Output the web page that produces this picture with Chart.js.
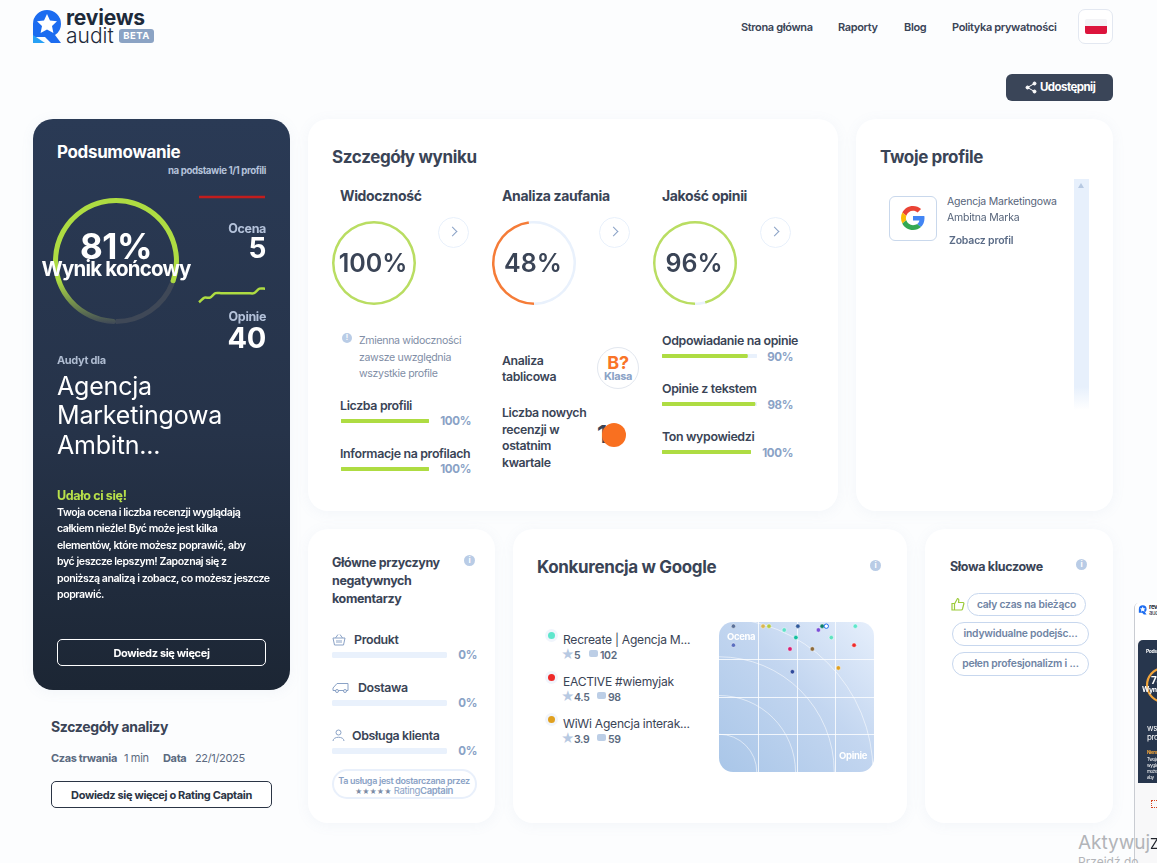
<!DOCTYPE html>
<html lang="pl">
<head>
<meta charset="utf-8">
<title>Reviews Audit</title>
<script src="https://cdn.jsdelivr.net/npm/chart.js@4"></script>
<style>
  html, body { margin: 0; padding: 0; width: 1157px; height: 863px; overflow: hidden; background: #fcfdfe; }
  body { position: relative; font-family: Inter, "Noto Sans", sans-serif; color: #3a4456; letter-spacing: -.35px; }
  canvas { position: absolute; display: block; }
  .card { position: absolute; background: #fff; border-radius: 20px; box-shadow: 0 2px 14px rgba(120,145,190,.07); }
  .t { position: absolute; white-space: nowrap; line-height: 1; transform: translateY(-50%); margin-top: 1px; }
  .r { transform: translate(-100%,-50%); }
  .c { transform: translate(-50%,-50%); }
  .b { font-weight: 700; }
  .s { font-weight: 600; }
  .h { font-size: 17px; font-weight: 700; margin-top: 0; }
  .sub { font-size: 12.400px; font-weight: 600; margin-top: 2px; }
  .pct { font-size: 11.500px; font-weight: 700; color: #8aa2c6; margin-top: 2px; }
  .ring { font-size: 25px; font-weight: 600; letter-spacing: 0; margin-top: 0; }
  .p { font-size: 10.600px; font-weight: 600; color: #fff; letter-spacing: -.45px; left: 57px; margin-top: 2px; }
  .arrow { position: absolute; width: 29px; height: 29px; border: 1px solid #e8f0fb; border-radius: 50%; background: #fff; }
  .arrow::after { content: ""; position: absolute; left: 10px; top: 10px; width: 6px; height: 6px; border-top: 1.6px solid #8aa2c6; border-right: 1.6px solid #8aa2c6; transform: rotate(45deg); }
  .info { position: absolute; width: 11px; height: 11px; border-radius: 50%; background: #b9cce6; color: #fff; font-size: 8px; font-weight: 700; text-align: center; line-height: 11px; letter-spacing: 0; }
  .pill { position: absolute; box-sizing: border-box; border: 1.5px solid #c7d7ee; border-radius: 12px; font-size: 10.300px; font-weight: 600; color: #6f84a4; text-align: center; letter-spacing: -.2px; }
  .btn { position: absolute; box-sizing: border-box; border-radius: 5px; font-size: 11px; font-weight: 700; text-align: center; }
  .dot { position: absolute; width: 7px; height: 7px; border-radius: 50%; box-shadow: 0 0 0 3px #f1f5fc; }
</style>
</head>
<body>

<!-- header -->
<svg style="position:absolute;left:30px;top:7px" width="36" height="40" viewBox="0 0 36 40">
  <path d="M3 17 a14 14 0 0 1 28 0 a13 13 0 0 1 -6 11 l6 8 h-10 l-6 -6 h-12 z" fill="#1c6cf0"/>
  <path d="M3 28 v8 h12 z" fill="#27a0f5"/>
  <path d="M17 7 l3 6.500 l7 .8 l-5 4.700 l1.400 7 l-6.400 -3.500 l-6.400 3.500 l1.400 -7 l-5 -4.700 l7 -.8 z" fill="#fff"/>
</svg>
<div class="t b" style="left:66px;top:16px;font-size:21px;color:#1d2a3a;letter-spacing:-.2px">reviews</div>
<div class="t" style="left:66px;top:34px;font-size:21px;font-weight:300;color:#1d2a3a;letter-spacing:0">audit</div>
<div style="position:absolute;left:119px;top:29px;width:35px;height:14px;border-radius:3px;background:#8ba3c4;color:#fff;font-size:9.500px;font-weight:700;text-align:center;line-height:14px;letter-spacing:.5px">BETA</div>

<div class="t s" style="left:741px;top:26px;font-size:11px">Strona główna</div>
<div class="t s" style="left:838px;top:26px;font-size:11px">Raporty</div>
<div class="t s" style="left:904px;top:26px;font-size:11px">Blog</div>
<div class="t s" style="left:952px;top:26px;font-size:11px">Polityka prywatności</div>
<div style="position:absolute;left:1078px;top:9px;width:33px;height:33px;border:1px solid #e3e8f1;border-radius:7px;background:#fff"></div>
<div style="position:absolute;left:1085px;top:19px;width:22px;height:7px;background:#f3f3f6;border-radius:2px 2px 0 0"></div>
<div style="position:absolute;left:1085px;top:26px;width:22px;height:8px;background:#dc143c;border-radius:0 0 2px 2px"></div>

<div style="position:absolute;left:1006px;top:74px;width:107px;height:27px;border-radius:6px;background:#3a4558"></div>
<svg style="position:absolute;left:1025px;top:81px" width="12" height="13" viewBox="0 0 12 13"><g fill="#fff" stroke="#fff"><circle cx="9.500" cy="2.500" r="1.500"/><circle cx="2.500" cy="6.500" r="1.500"/><circle cx="9.500" cy="10.500" r="1.500"/><path d="M9.500 2.500 L2.500 6.500 L9.500 10.500" fill="none"/></g></svg>
<div class="t b" style="left:1040px;top:87px;font-size:11.500px;color:#fff;letter-spacing:-.55px">Udostępnij</div>

<!-- summary panel -->
<div class="card" style="left:33px;top:119px;width:257px;height:571px;background:linear-gradient(180deg,#2a3a55 0%,#263349 55%,#1c2634 100%)"></div>
<div class="t h" style="left:57px;top:152px;color:#fff">Podsumowanie</div>
<div class="t r b" style="left:266px;top:170px;font-size:9.700px;color:#b4c2da;letter-spacing:-.4px">na podstawie 1/1 profili</div>
<canvas id="ringFinal" width="130" height="130" style="left:51px;top:196px"></canvas>
<div class="t c b" style="left:116px;top:245px;font-size:35px;color:#fff;letter-spacing:-.5px">81%</div>
<div class="t c b" style="left:116px;top:268px;font-size:20.500px;color:#fff;letter-spacing:-.8px">Wynik końcowy</div>
<canvas id="sparkRating" width="68" height="8" style="left:198px;top:193px"></canvas>
<div class="t r b" style="left:266px;top:228px;font-size:12.500px;color:#b4c2da">Ocena</div>
<div class="t r b" style="left:266px;top:247px;font-size:28px;color:#fff">5</div>
<canvas id="sparkReviews" width="68" height="18" style="left:198px;top:286px"></canvas>
<div class="t r b" style="left:266px;top:316px;font-size:12.500px;color:#b4c2da">Opinie</div>
<div class="t r b" style="left:266px;top:336px;font-size:29px;color:#fff">40</div>
<div class="t b" style="left:57px;top:359px;font-size:11px;color:#aebbd0">Audyt dla</div>
<div class="t" style="left:57px;top:385px;font-size:25px;color:#fff;letter-spacing:-.2px">Agencja</div>
<div class="t" style="left:57px;top:414px;font-size:25px;color:#fff;letter-spacing:-.2px">Marketingowa</div>
<div class="t" style="left:57px;top:444px;font-size:25px;color:#fff;letter-spacing:-.2px">Ambitn...</div>
<div class="t b" style="left:57px;top:495px;font-size:12.500px;color:#b8e04a">Udało ci się!</div>
<div class="t p" style="top:511px">Twoja ocena i liczba recenzji wyglądają</div>
<div class="t p" style="top:527px">całkiem nieźle! Być może jest kilka</div>
<div class="t p" style="top:544px">elementów, które możesz poprawić, aby</div>
<div class="t p" style="top:560px">być jeszcze lepszym! Zapoznaj się z</div>
<div class="t p" style="top:577px">poniższą analizą i zobacz, co możesz jeszcze</div>
<div class="t p" style="top:593px">poprawić.</div>
<div class="btn" style="left:57px;top:639px;width:209px;height:27px;border:1px solid #fff;color:#fff;line-height:26px">Dowiedz się więcej</div>

<div class="t b" style="left:51px;top:726px;font-size:14px">Szczegóły analizy</div>
<div class="t b" style="left:51px;top:757px;font-size:11px;color:#5b6a80">Czas trwania</div>
<div class="t" style="left:124px;top:757px;font-size:11px;color:#5b6a80">1 min</div>
<div class="t b" style="left:163px;top:757px;font-size:11px;color:#5b6a80">Data</div>
<div class="t" style="left:195px;top:757px;font-size:11px;color:#5b6a80">22/1/2025</div>
<div class="btn" style="left:51px;top:781px;width:221px;height:27px;border:1px solid #2b3545;color:#2b3545;line-height:26px;background:#fff">Dowiedz się więcej o Rating Captain</div>

<!-- score details -->
<div class="card" style="left:308px;top:119px;width:530px;height:392px"></div>
<div class="t h" style="left:332px;top:157px">Szczegóły wyniku</div>
<div class="t b" style="left:340px;top:195px;font-size:14px">Widoczność</div>
<div class="t b" style="left:502px;top:195px;font-size:14px">Analiza zaufania</div>
<div class="t b" style="left:662px;top:195px;font-size:14px">Jakość opinii</div>
<canvas id="ringVisibility" width="86" height="86" style="left:331px;top:220px"></canvas>
<canvas id="ringTrust" width="86" height="86" style="left:491px;top:220px"></canvas>
<canvas id="ringQuality" width="86" height="86" style="left:652px;top:220px"></canvas>
<div class="t c ring" style="left:373px;top:263px">100%</div>
<div class="t c ring" style="left:533px;top:263px">48%</div>
<div class="t c ring" style="left:694px;top:263px">96%</div>
<div class="arrow" style="left:438px;top:217px"></div>
<div class="arrow" style="left:599px;top:217px"></div>
<div class="arrow" style="left:760px;top:217px"></div>

<div class="info" style="left:342px;top:333px;width:10px;height:10px;line-height:10px;font-size:7px">!</div>
<div class="t" style="left:359px;top:340px;font-size:10.600px;color:#7f8ea6">Zmienna widoczności</div>
<div class="t" style="left:359px;top:357px;font-size:10.600px;color:#7f8ea6">zawsze uwzględnia</div>
<div class="t" style="left:359px;top:373px;font-size:10.600px;color:#7f8ea6">wszystkie profile</div>
<div class="t sub" style="left:340px;top:404px">Liczba profili</div>
<canvas id="barProfiles" width="88" height="4" style="left:341px;top:419px"></canvas>
<div class="t r pct" style="left:471px;top:420px">100%</div>
<div class="t sub" style="left:340px;top:452px">Informacje na profilach</div>
<canvas id="barInfo" width="88" height="4" style="left:341px;top:467px"></canvas>
<div class="t r pct" style="left:471px;top:468px">100%</div>

<div class="t s" style="left:502px;top:360px;font-size:12.300px">Analiza</div>
<div class="t s" style="left:502px;top:376px;font-size:12.300px">tablicowa</div>
<div style="position:absolute;left:597px;top:347px;width:40px;height:40px;border:1px solid #e2e7ef;border-radius:50%"></div>
<div class="t c b" style="left:618px;top:362px;font-size:18px;color:#f97428">B?</div>
<div class="t c b" style="left:618px;top:375px;font-size:11px;color:#8aa2c6">Klasa</div>
<div class="t s" style="left:502px;top:412px;font-size:12.300px">Liczba nowych</div>
<div class="t s" style="left:502px;top:429px;font-size:12.300px">recenzji w</div>
<div class="t s" style="left:502px;top:445px;font-size:12.300px">ostatnim</div>
<div class="t s" style="left:502px;top:462px;font-size:12.300px">kwartale</div>
<div class="t b" style="left:597px;top:434px;font-size:24px">1</div>
<div style="position:absolute;left:602px;top:423px;width:24px;height:24px;border-radius:50%;background:#f97020"></div>

<div class="t sub" style="left:662px;top:339px">Odpowiadanie na opinie</div>
<canvas id="barReplies" width="95" height="4" style="left:662px;top:354px"></canvas>
<div class="t r pct" style="left:793px;top:356px">90%</div>
<div class="t sub" style="left:662px;top:387px">Opinie z tekstem</div>
<canvas id="barText" width="95" height="4" style="left:662px;top:402px"></canvas>
<div class="t r pct" style="left:793px;top:404px">98%</div>
<div class="t sub" style="left:662px;top:435px">Ton wypowiedzi</div>
<canvas id="barTone" width="89" height="4" style="left:662px;top:450px"></canvas>
<div class="t r pct" style="left:793px;top:452px">100%</div>

<!-- profiles -->
<div class="card" style="left:856px;top:119px;width:257px;height:392px"></div>
<div class="t h" style="left:880px;top:157px">Twoje profile</div>
<div style="position:absolute;left:889px;top:196px;width:46px;height:43px;border:1px solid #c9d8ec;border-radius:6px"></div>
<svg style="position:absolute;left:901px;top:206px" width="24" height="24" viewBox="0 0 48 48">
  <path fill="#EA4335" d="M24 9.500c3.500 0 6.700 1.200 9.200 3.600l6.900-6.900C35.900 2.400 30.500 0 24 0 14.600 0 6.500 5.400 2.600 13.200l8 6.200C12.500 13.700 17.800 9.500 24 9.500z"/>
  <path fill="#4285F4" d="M47 24.500c0-1.600-.1-3.100-.4-4.500H24v9h12.900c-.6 3-2.200 5.500-4.800 7.200l7.700 6C44.400 37.900 47 31.800 47 24.500z"/>
  <path fill="#FBBC05" d="M10.600 28.600c-.5-1.500-.8-3-.8-4.600s.3-3.100.8-4.600l-8-6.200C.9 16.500 0 20.100 0 24s.9 7.500 2.600 10.800l8-6.200z"/>
  <path fill="#34A853" d="M24 48c6.500 0 11.900-2.100 15.900-5.800l-7.700-6c-2.200 1.400-4.900 2.300-8.200 2.300-6.200 0-11.500-4.200-13.400-9.900l-8 6.200C6.500 42.600 14.600 48 24 48z"/>
</svg>
<div class="t" style="left:947px;top:201px;font-size:10.500px;color:#56647a;letter-spacing:-.2px">Agencja Marketingowa</div>
<div class="t" style="left:947px;top:217px;font-size:10.500px;color:#56647a;letter-spacing:-.2px">Ambitna Marka</div>
<div class="t s" style="left:949px;top:240px;font-size:10.500px;color:#5a6b86;letter-spacing:-.2px">Zobacz profil</div>
<div style="position:absolute;left:1074px;top:179px;width:15px;height:231px;background:linear-gradient(180deg,#e7f0fc 0%,#e7f0fc 90%,#fff 100%)"></div>
<div style="position:absolute;left:1078px;top:183px;border-left:3.500px solid transparent;border-right:3.500px solid transparent;border-bottom:5px solid #b7c9e2"></div>

<!-- negative comments -->
<div class="card" style="left:308px;top:529px;width:187px;height:294px"></div>
<div class="t b" style="left:332px;top:562px;font-size:12.500px">Główne przyczyny</div>
<div class="t b" style="left:332px;top:580px;font-size:12.500px">negatywnych</div>
<div class="t b" style="left:332px;top:598px;font-size:12.500px">komentarzy</div>
<div class="info" style="left:464px;top:555px">i</div>
<svg style="position:absolute;left:332px;top:633px" width="14" height="13" viewBox="0 0 14 13" fill="none" stroke="#8aa2c6"><path d="M1 5 h12 l-1.500 7 h-9 z M3.500 5 L6 1.500 M10.500 5 L8 1.500 M5 7 v3 M7 7 v3 M9 7 v3"/></svg>
<div class="t sub" style="left:354px;top:638px">Produkt</div>
<canvas id="barProduct" width="115" height="6" style="left:332px;top:652px"></canvas>
<div class="t r pct" style="left:477px;top:654px">0%</div>
<svg style="position:absolute;left:332px;top:682px" width="17" height="11" viewBox="0 0 17 11" fill="none" stroke="#8aa2c6"><path d="M1 6 L5 1.500 H16 V8.500 H1 Z"/><circle cx="5" cy="9" r="1.500" fill="#fff"/><circle cx="13" cy="9" r="1.500" fill="#fff"/></svg>
<div class="t sub" style="left:358px;top:686px">Dostawa</div>
<canvas id="barDelivery" width="115" height="6" style="left:332px;top:700px"></canvas>
<div class="t r pct" style="left:477px;top:702px">0%</div>
<svg style="position:absolute;left:332px;top:729px" width="13" height="13" viewBox="0 0 13 13" fill="none" stroke="#8aa2c6"><circle cx="6.500" cy="3.500" r="2.500"/><path d="M1 12 c0 -5 11 -5 11 0"/></svg>
<div class="t sub" style="left:352px;top:734px">Obsługa klienta</div>
<canvas id="barService" width="115" height="6" style="left:332px;top:748px"></canvas>
<div class="t r pct" style="left:477px;top:750px">0%</div>
<div style="position:absolute;left:332px;top:769px;width:141px;height:26px;border:2px solid #e9f0fb;border-radius:15px"></div>
<div class="t c s" style="left:404px;top:779px;font-size:9px;color:#8aa2c6;letter-spacing:-.35px">Ta usługa jest dostarczana przez</div>
<div class="t c" style="left:404px;top:790px;font-size:9.500px;color:#8aa2c6"><span style="color:#7c8ca6;font-size:7px;letter-spacing:0">★★★★★</span> Rating<b style="font-weight:600">Captain</b></div>

<!-- competitors -->
<div class="card" style="left:513px;top:529px;width:394px;height:294px"></div>
<div class="t h" style="left:537px;top:567px">Konkurencja w Google</div>
<div class="info" style="left:870px;top:560px">i</div>
<div id="rivals"></div>
<div style="position:absolute;left:719px;top:622px;width:155px;height:150px;border-radius:14px;overflow:hidden;background:linear-gradient(45deg,#a9c6e8 0%,#c3d6f0 55%,#e6effc 100%)">
  <canvas id="mapChart" width="155" height="150" style="left:0;top:0"></canvas>
  <div class="t b" style="left:8px;top:14px;font-size:9.500px;color:#fff">Ocena</div>
  <div class="t r b" style="left:148px;top:133px;font-size:9.500px;color:#fff">Opinie</div>
</div>

<!-- keywords -->
<div class="card" style="left:925px;top:529px;width:188px;height:294px"></div>
<div class="t b" style="left:950px;top:566px;font-size:12.500px">Słowa kluczowe</div>
<div class="info" style="left:1076px;top:559px">i</div>
<svg style="position:absolute;left:951px;top:597px" width="14" height="14" viewBox="0 0 14 14" fill="none" stroke="#9ccb3b" stroke-width="1.200"><path d="M1 6.500 h2.500 v6.500 h-2.500 z M3.500 7 L6.500 1.500 c1.500 0 1.500 1.500 1 4 h4.500 c1 0 1 1 .8 1.500 l-1.300 5 c-.2 .7 -.6 1 -1.200 1 H3.500"/></svg>
<div class="pill" style="left:967px;top:593px;width:119px;height:23px;line-height:20px">cały czas na bieżąco</div>
<div class="pill" style="left:952px;top:622px;width:137px;height:24px;line-height:21px">indywidualne podejśc...</div>
<div class="pill" style="left:952px;top:652px;width:137px;height:24px;line-height:21px">pełen profesjonalizm i ...</div>

<!-- cut off preview widget and system watermark -->
<div style="position:absolute;left:1134px;top:603px;width:30px;height:270px;background:#f8f8f9;border-left:1px solid #c9ccd2;border-radius:5px 0 0 0;overflow:hidden">
  <div style="position:absolute;left:0;top:0;width:30px;height:37px;background:#fff"></div>
  <svg style="position:absolute;left:3px;top:1px" width="10" height="12" viewBox="0 0 36 40"><path d="M3 17 a14 14 0 0 1 28 0 a13 13 0 0 1 -6 11 l6 8 h-10 l-6 -6 h-12 z" fill="#1c6cf0"/><path d="M17 7 l3 6.500 l7 .8 l-5 4.700 l1.400 7 l-6.400 -3.500 l-6.400 3.500 l1.400 -7 l-5 -4.700 l7 -.8 z" fill="#fff"/></svg>
  <div class="t b" style="left:14px;top:3px;font-size:6px;color:#1d2a3a">reviews</div>
  <div class="t" style="left:14px;top:9px;font-size:6px;color:#1d2a3a">audit</div>
  <div style="position:absolute;left:3px;top:37px;width:40px;height:143px;background:#27364d;border-radius:5px 0 0 0"></div>
  <div class="t b" style="left:11px;top:47px;font-size:5px;color:#fff">Podsumowanie</div>
  <canvas id="ringPreview" width="38" height="38" style="left:10px;top:63px"></canvas>
  <div class="t b" style="left:16px;top:76px;font-size:10px;color:#fff">73%</div>
  <div class="t b" style="left:7px;top:85px;font-size:7px;color:#fff">Wynik końcowy</div>
  <div class="t" style="left:12px;top:124px;font-size:8px;color:#fff">wsp</div>
  <div class="t" style="left:12px;top:133px;font-size:8px;color:#fff">pro</div>
  <div class="t b" style="left:12px;top:149px;font-size:4.500px;color:#f2a53a">Niemal</div>
  <div class="t" style="left:12px;top:156px;font-size:4.500px;color:#fff">Twoja ocena</div>
  <div class="t" style="left:12px;top:162px;font-size:4.500px;color:#fff">wygląda</div>
  <div class="t" style="left:12px;top:168px;font-size:4.500px;color:#fff">może</div>
  <div class="t" style="left:12px;top:174px;font-size:4.500px;color:#fff">aby</div>
  <div style="position:absolute;left:16px;top:197px;width:6px;height:6px;border:1.500px dotted #d8431e"></div>
</div>
<div class="t" style="left:1078px;top:841px;font-size:19px;color:#b2b4b8;letter-spacing:0;font-weight:400">Aktywuj</div>
<div class="t" style="left:1150px;top:843px;font-size:14px;color:#20242c;letter-spacing:0">Z</div>
<div class="t" style="left:1078px;top:861px;font-size:12px;color:#b2b4b8;letter-spacing:0">Przejdź do</div>

<script>
// score rings
const finalScore = 81;
const visibilityScore = 100;
const trustScore = 48;
const qualityScore = 96;
const previewScore = 73;

// progress bars
const profileBars = [100, 100];
const detailBars = [90, 98, 100];
const negativeBars = [0, 0, 0];

// sparklines
const sparkMonths = ["I", "II", "III", "IV", "V", "VI", "VII", "VIII", "IX", "X", "XI", "XII", "I"];
const ratingTrend = [5, 5, 5, 5, 5, 5, 5, 5, 5, 5, 5, 5, 5];
const reviewsTrend = [37, 38, 38, 39, 39, 39, 39, 39, 39, 39, 39, 40, 40];

// competitor map, reviews are on a log axis
const mapReviews = [2, 2, 5.2, 6.3, 10.3, 16, 35, 40, 31, 102, 15, 47, 12.4, 25.5, 98, 59, 13.4];
const mapRatings = [5, 4.5, 5, 5, 4.9, 5, 5, 5, 4.9, 5, 4.7, 4.7, 4.4, 4.4, 4.5, 3.9, 3.8];
const mapGridReviews = [4.45, 15.7, 53.5];
const mapGridRatings = [2.16, 3.13, 4.13];

// top competitors
const rivalNames = ["Recreate | Agencja M...", "EACTIVE #wiemyjak", "WiWi Agencja interak..."];
const rivalRatings = ["5", "4.5", "3.9"];
const rivalReviews = ["102", "98", "59"];

const GREEN = "#aedc42";
const ORANGE = "#f57c38";
const TRACK = "#e9f1fc";
const mapColors = ["#5b7199", "#5a6fc0", "#d9b650", "#b4c940", "#5fe0c8", "#2f5a9c", "#0e7f6a", "#ffffff",
  "#7a4fd8", "#5fe6cc", "#12bfa0", "#5fe3c0", "#d81b70", "#8c6a3c", "#ee2a2a", "#e0a020", "#2f4a9c"];
const rivalColors = ["#5fe6cc", "#ee2a2a", "#e0a020"];

Chart.defaults.animation = false;
Chart.defaults.responsive = false;
Chart.defaults.plugins.legend.display = false;
Chart.defaults.plugins.tooltip.enabled = false;

function drawRing(id, value, color, cutout) {
  new Chart(document.getElementById(id), {
    type: "doughnut",
    data: {
      datasets: [{
        data: [value, 100 - value],
        backgroundColor: [color, TRACK],
        borderWidth: 0,
      }],
    },
    options: { rotation: 180, cutout: cutout, layout: { padding: 1 } },
  });
}

function drawBar(id, value) {
  new Chart(document.getElementById(id), {
    type: "bar",
    data: {
      labels: [""],
      datasets: [
        // nothing to fill on a zero value, it would leave a green speck
        { data: [value > 0 ? value : null], backgroundColor: GREEN, order: 1, borderRadius: 2, borderSkipped: false },
        { data: [100], backgroundColor: TRACK, order: 2, borderRadius: 3, borderSkipped: false },
      ],
    },
    options: {
      indexAxis: "y",
      layout: { padding: 0 },
      datasets: { bar: { grouped: false, barPercentage: 1, categoryPercentage: 1 } },
      scales: {
        x: { display: false, min: 0, max: 100 },
        y: { display: false },
      },
    },
  });
}

function drawSpark(id, values, color, min, max) {
  new Chart(document.getElementById(id), {
    type: "line",
    data: {
      labels: sparkMonths,
      datasets: [{ data: values, borderColor: color, borderWidth: 2.5, pointRadius: 0, tension: 0.25 }],
    },
    options: {
      layout: { autoPadding: false, padding: { left: 1, right: 1 } },
      scales: {
        x: { display: false },
        y: { display: false, min: min, max: max },
      },
    },
  });
}

// main ring fades out towards the bottom
new Chart(document.getElementById("ringFinal"), {
  type: "doughnut",
  data: {
    datasets: [{
      data: [finalScore, 100 - finalScore],
      backgroundColor: function (context) {
        if (context.dataIndex === 1) return "#3f4857";
        const { ctx, chartArea } = context.chart;
        if (!chartArea) return GREEN;
        let gradient = ctx.createLinearGradient(0, chartArea.bottom, 0, chartArea.top);
        gradient.addColorStop(0, "#3f4857");
        gradient.addColorStop(0.35, GREEN);
        gradient.addColorStop(1, GREEN);
        return gradient;
      },
      borderWidth: 0,
      borderRadius: function (context) {
        return context.dataIndex === 0 ? 4 : 0;
      },
    }],
  },
  options: { rotation: 180, cutout: "92%", layout: { padding: 2 } },
});

drawRing("ringVisibility", visibilityScore, "#b9dd62", "94%");
drawRing("ringTrust", trustScore, ORANGE, "94%");
drawRing("ringQuality", qualityScore, "#b9dd62", "94%");
drawRing("ringPreview", previewScore, "#f2a53a", "88%");

drawSpark("sparkRating", ratingTrend, "#c21d1d", 4, 6);
drawSpark("sparkReviews", reviewsTrend, GREEN, 36.6, 40.6);

drawBar("barProfiles", profileBars[0]);
drawBar("barInfo", profileBars[1]);
drawBar("barReplies", detailBars[0]);
drawBar("barText", detailBars[1]);
drawBar("barTone", detailBars[2]);
drawBar("barProduct", negativeBars[0]);
drawBar("barDelivery", negativeBars[1]);
drawBar("barService", negativeBars[2]);

// quarter circles behind the points
const mapArcs = {
  id: "mapArcs",
  beforeDatasetsDraw(chart) {
    const { ctx, chartArea } = chart;
    const step = chartArea.width / 4;
    ctx.save();
    ctx.strokeStyle = "rgba(255,255,255,.55)";
    ctx.lineWidth = 1;
    for (let i = 1; i <= 4; i++) {
      ctx.beginPath();
      ctx.arc(chartArea.left, chartArea.bottom, step * i - 1, -Math.PI / 2, 0);
      ctx.stroke();
    }
    ctx.restore();
  },
};

new Chart(document.getElementById("mapChart"), {
  type: "scatter",
  data: {
    datasets: [{
      data: mapReviews.map((r, i) => ({ x: r, y: mapRatings[i] })),
      backgroundColor: mapColors,
      borderColor: mapColors.map((c) => (c === "#ffffff" ? "#1c6cf0" : "rgba(255,255,255,.45)")),
      borderWidth: 1,
      pointRadius: 2.2,
    }],
  },
  options: {
    layout: { autoPadding: false, padding: 0 },
    clip: false,
    scales: {
      x: {
        type: "logarithmic",
        min: 1.256,
        max: 186.4,
        afterBuildTicks(scale) {
          scale.ticks = mapGridReviews.map((v) => ({ value: v }));
        },
        ticks: { display: false },
        border: { display: false },
        grid: { color: "rgba(255,255,255,.8)", drawTicks: false },
      },
      y: {
        min: 1.16,
        max: 5.11,
        afterBuildTicks(scale) {
          scale.ticks = mapGridRatings.map((v) => ({ value: v }));
        },
        ticks: { display: false },
        border: { display: false },
        grid: { color: "rgba(255,255,255,.8)", drawTicks: false },
      },
    },
  },
  plugins: [mapArcs],
});

// rival list next to the map
const rivalsBox = document.getElementById("rivals");
rivalNames.forEach((name, i) => {
  const top = 636 + i * 42;
  const bubbleLeft = i === 0 ? 589 : 597;
  rivalsBox.insertAdjacentHTML(
    "beforeend",
    `
    <div class="dot" style="left:548px;top:${top - 4}px;background:${rivalColors[i]}"></div>
    <div class="t" style="left:563px;top:${top + 3}px;font-size:12.100px;letter-spacing:-.25px">${name}</div>
    <div class="t" style="left:561px;top:${top + 17}px;font-size:13px;color:#b7c9e2;letter-spacing:0">★</div>
    <div class="t s" style="left:574px;top:${top + 19}px;font-size:10.500px;color:#5b6a80">${rivalRatings[i]}</div>
    <div style="position:absolute;left:${bubbleLeft}px;top:${top + 14}px;width:9px;height:7px;background:#bccee6;border-radius:2px"></div>
    <div class="t s" style="left:${bubbleLeft + 11}px;top:${top + 19}px;font-size:10.500px;color:#5b6a80">${rivalReviews[i]}</div>
    `
  );
});
</script>
</body>
</html>
